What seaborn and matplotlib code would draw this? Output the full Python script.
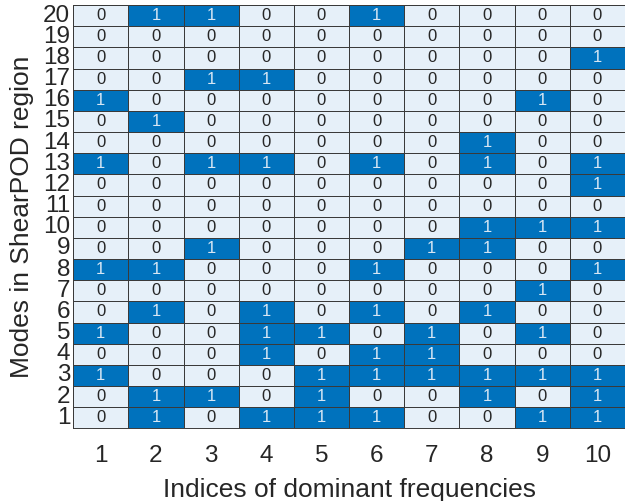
import numpy as np
import pandas as pd
import matplotlib
matplotlib.use("Agg")
import matplotlib.pyplot as plt
from matplotlib.colors import ListedColormap
import seaborn as sns

freq_idx = [1, 2, 3, 4, 5, 6, 7, 8, 9, 10]
modes = [20, 19, 18, 17, 16, 15, 14, 13, 12, 11, 10, 9, 8, 7, 6, 5, 4, 3, 2, 1]
row20 = [0, 1, 1, 0, 0, 1, 0, 0, 0, 0]
row19 = [0, 0, 0, 0, 0, 0, 0, 0, 0, 0]
row18 = [0, 0, 0, 0, 0, 0, 0, 0, 0, 1]
row17 = [0, 0, 1, 1, 0, 0, 0, 0, 0, 0]
row16 = [1, 0, 0, 0, 0, 0, 0, 0, 1, 0]
row15 = [0, 1, 0, 0, 0, 0, 0, 0, 0, 0]
row14 = [0, 0, 0, 0, 0, 0, 0, 1, 0, 0]
row13 = [1, 0, 1, 1, 0, 1, 0, 1, 0, 1]
row12 = [0, 0, 0, 0, 0, 0, 0, 0, 0, 1]
row11 = [0, 0, 0, 0, 0, 0, 0, 0, 0, 0]
row10 = [0, 0, 0, 0, 0, 0, 0, 1, 1, 1]
row9 = [0, 0, 1, 0, 0, 0, 1, 1, 0, 0]
row8 = [1, 1, 0, 0, 0, 1, 0, 0, 0, 1]
row7 = [0, 0, 0, 0, 0, 0, 0, 0, 1, 0]
row6 = [0, 1, 0, 1, 0, 1, 0, 1, 0, 0]
row5 = [1, 0, 0, 1, 1, 0, 1, 0, 1, 0]
row4 = [0, 0, 0, 1, 0, 1, 1, 0, 0, 0]
row3 = [1, 0, 0, 0, 1, 1, 1, 1, 1, 1]
row2 = [0, 1, 1, 0, 1, 0, 0, 1, 0, 1]
row1 = [0, 1, 0, 1, 1, 1, 0, 0, 1, 1]

rows = [row20, row19, row18, row17, row16, row15, row14, row13, row12, row11,
        row10, row9, row8, row7, row6, row5, row4, row3, row2, row1]
df = pd.DataFrame(rows, index=modes, columns=freq_idx)

sns.set_theme(style="white")
plt.rcParams['font.family'] = ['Liberation Sans', 'DejaVu Sans']

fig = plt.figure(figsize=(6.25, 5.01), dpi=100)
ax = fig.add_axes([0.117, 0.145, 0.883, 0.845])

cmap = ListedColormap(["#E6F0F9", "#0072BD"])
sns.heatmap(df, ax=ax, cmap=cmap, vmin=0, vmax=1, cbar=False,
            annot=True, fmt="d", annot_kws={"fontsize": 12},
            linewidths=0.7, linecolor="#3a3a3a")

for t in ax.texts:
    if t.get_text() == "1":
        t.set_color("#D6E6F4")
    else:
        t.set_color("#262626")

ax.set_xlabel("Indices of dominant frequencies", fontsize=19, color="#262626", labelpad=8)
ax.set_ylabel("Modes in ShearPOD region", fontsize=19, color="#262626", labelpad=7)
ax.tick_params(axis='x', labelsize=17.5, pad=12, length=0, colors="#262626", rotation=0)
ax.tick_params(axis='y', labelsize=17.5, pad=2, length=0, colors="#262626", rotation=0)
for lbl in ax.get_yticklabels():
    lbl.set_verticalalignment('center')

for s in ax.spines.values():
    s.set_visible(True)
    s.set_color("#3a3a3a")
    s.set_linewidth(0.7)

fig.savefig("out.png", dpi=100)
